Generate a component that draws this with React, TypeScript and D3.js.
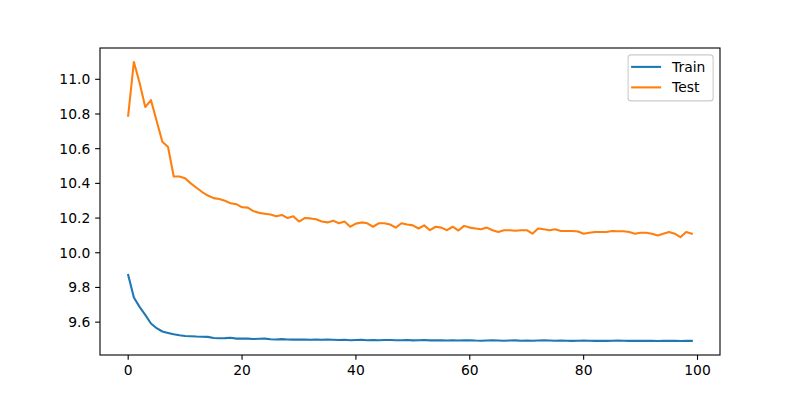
import React from "react";
import * as d3 from "d3";

const epochs: number[] = Array.from({ length: 100 }, (_, i) => i);

const trainLoss: number[] = [
  9.872, 9.742, 9.688, 9.642, 9.592, 9.565, 9.546, 9.538, 9.530, 9.524,
  9.520, 9.519, 9.517, 9.516, 9.515, 9.509, 9.507, 9.508, 9.510, 9.505,
  9.506, 9.505, 9.503, 9.504, 9.505, 9.501, 9.500, 9.502, 9.500, 9.499,
  9.500, 9.499, 9.498, 9.499, 9.498, 9.499, 9.498, 9.497, 9.498, 9.496,
  9.497, 9.498, 9.496, 9.497, 9.496, 9.497, 9.497, 9.496, 9.496, 9.497,
  9.495, 9.496, 9.497, 9.495, 9.496, 9.495, 9.494, 9.495, 9.494, 9.495,
  9.496, 9.494, 9.493, 9.494, 9.495, 9.494, 9.493, 9.494, 9.495, 9.493,
  9.494, 9.493, 9.494, 9.495, 9.494, 9.493, 9.494, 9.493, 9.492, 9.493,
  9.494, 9.493, 9.492, 9.493, 9.492, 9.493, 9.494, 9.493, 9.492, 9.493,
  9.492, 9.493, 9.492, 9.491, 9.492, 9.493, 9.492, 9.491, 9.492, 9.492,
];

const testLoss: number[] = [
  10.79, 11.10, 10.98, 10.84, 10.88, 10.76, 10.64, 10.61, 10.44, 10.44,
  10.43, 10.40, 10.375, 10.35, 10.33, 10.315, 10.31, 10.30, 10.285, 10.28,
  10.262, 10.26, 10.24, 10.23, 10.225, 10.22, 10.21, 10.218, 10.20, 10.21,
  10.18, 10.20, 10.198, 10.193, 10.18, 10.175, 10.185, 10.17, 10.18, 10.15,
  10.168, 10.175, 10.17, 10.15, 10.17, 10.17, 10.163, 10.145, 10.17, 10.163,
  10.158, 10.14, 10.158, 10.13, 10.15, 10.145, 10.13, 10.15, 10.128, 10.155,
  10.145, 10.14, 10.135, 10.145, 10.13, 10.12, 10.13, 10.13, 10.127, 10.13,
  10.13, 10.11, 10.14, 10.135, 10.13, 10.135, 10.125, 10.125, 10.125, 10.123,
  10.11, 10.115, 10.12, 10.12, 10.12, 10.125, 10.124, 10.124, 10.12, 10.11,
  10.115, 10.115, 10.11, 10.10, 10.11, 10.12, 10.11, 10.09, 10.12, 10.11,
];

const xTicks: number[] = [0, 20, 40, 60, 80, 100];
const yTicks: number[] = [9.6, 9.8, 10.0, 10.2, 10.4, 10.6, 10.8, 11.0];

const seriesNames: string[] = ["Train", "Test"];
const seriesColors: string[] = ["#1f77b4", "#ff7f0e"];

export default function App() {
  const W = 800;
  const H = 400;
  const left = 100;
  const right = 720;
  const top = 48;
  const bottom = 355;
  const fs = 13.89;
  const font = "DejaVu Sans, sans-serif";

  const xMin = d3.min(epochs)!;
  const xMax = d3.max(epochs)!;
  const xPad = (xMax - xMin) * 0.05;
  const all = trainLoss.concat(testLoss);
  const yMin = d3.min(all)!;
  const yMax = d3.max(all)!;
  const yPad = (yMax - yMin) * 0.05;

  const x = d3.scaleLinear().domain([xMin - xPad, xMax + xPad]).range([left, right]);
  const y = d3.scaleLinear().domain([yMin - yPad, yMax + yPad]).range([bottom, top]);

  const line = d3
    .line<number>()
    .x((_, i) => x(epochs[i]))
    .y((d) => y(d));

  const series = [trainLoss, testLoss];
  const tickLen = 4.86;

  // legend geometry
  const lgRight = right - 6.9;
  const lgTop = top + 6.9;
  const lgW = 85;
  const lgH = 46;
  const lgLeft = lgRight - lgW;

  return (
    <svg width={W} height={H} style={{ display: "block", position: "absolute", left: 0, top: 0 }}>
      <rect x={0} y={0} width={W} height={H} fill="#ffffff" />
      <defs>
        <clipPath id="plotclip">
          <rect x={left} y={top} width={right - left} height={bottom - top} />
        </clipPath>
      </defs>
      <g clipPath="url(#plotclip)">
        {series.map((s, k) => (
          <path
            key={k}
            d={line(s) || ""}
            fill="none"
            stroke={seriesColors[k]}
            strokeWidth={2.08}
            strokeLinejoin="round"
            strokeLinecap="square"
          />
        ))}
      </g>
      <rect
        x={left}
        y={top}
        width={right - left}
        height={bottom - top}
        fill="none"
        stroke="#000"
        strokeWidth={1.1}
      />
      {xTicks.map((t) => (
        <g key={"x" + t}>
          <line x1={x(t)} x2={x(t)} y1={bottom} y2={bottom + tickLen} stroke="#000" strokeWidth={1.1} />
          <text
            x={x(t)}
            y={bottom + tickLen + 4.86 + fs * 0.76}
            textAnchor="middle"
            fontFamily={font}
            fontSize={fs}
            fill="#000"
          >
            {String(t)}
          </text>
        </g>
      ))}
      {yTicks.map((t) => (
        <g key={"y" + t}>
          <line x1={left - tickLen} x2={left} y1={y(t)} y2={y(t)} stroke="#000" strokeWidth={1.1} />
          <text
            x={left - tickLen - 4.86}
            y={y(t)}
            dy="0.35em"
            textAnchor="end"
            fontFamily={font}
            fontSize={fs}
            fill="#000"
          >
            {t.toFixed(1)}
          </text>
        </g>
      ))}
      <rect
        x={lgLeft}
        y={lgTop}
        width={lgW}
        height={lgH}
        rx={3}
        ry={3}
        fill="#ffffff"
        fillOpacity={0.8}
        stroke="#cccccc"
        strokeWidth={1.1}
      />
      {seriesNames.map((name, k) => {
        const cy = lgTop + 12 + k * 20.5;
        return (
          <g key={name}>
            <line
              x1={lgLeft + 3}
              x2={lgLeft + 33}
              y1={cy}
              y2={cy}
              stroke={seriesColors[k]}
              strokeWidth={2.08}
            />
            <text
              x={lgLeft + 44}
              y={cy}
              dy="0.36em"
              fontFamily={font}
              fontSize={fs}
              fill="#000"
            >
              {name}
            </text>
          </g>
        );
      })}
    </svg>
  );
}
